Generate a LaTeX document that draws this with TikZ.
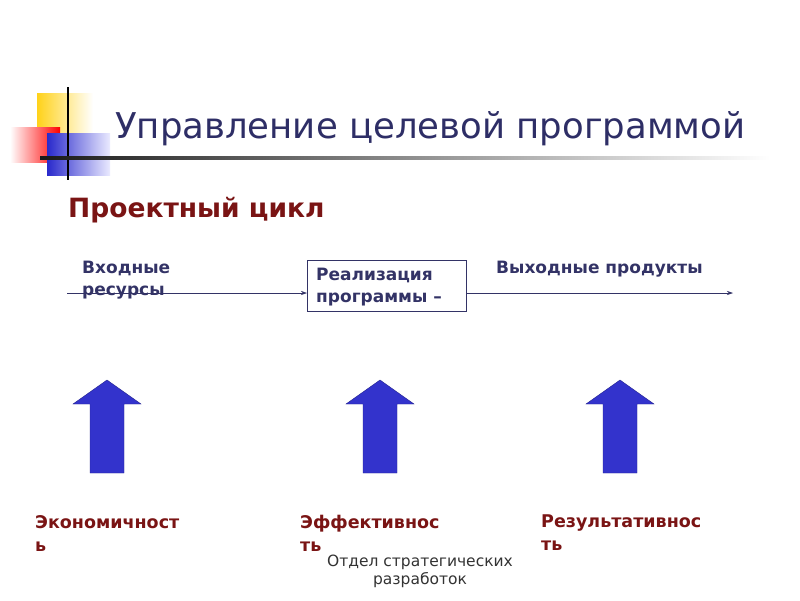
\documentclass[tikz,border=0pt]{standalone}
\usepackage{fontspec}
\setmainfont{DejaVu Sans}
\usetikzlibrary{arrows.meta}
\definecolor{titleblue}{HTML}{2E2E66}
\definecolor{darkred}{HTML}{7A1414}
\definecolor{arrowblue}{HTML}{3333CC}
\definecolor{txtblue}{HTML}{333366}
\definecolor{logoyellow}{HTML}{FFD21A}
\definecolor{logoblue}{HTML}{2A2ACC}
\tikzset{
  bigarrow/.style={fill=arrowblue, draw=arrowblue!70!black, line width=0.4pt},
  flowlbl/.style={anchor=north west, align=left, inner sep=0pt, text=txtblue, font=\fontsize{17}{22}\selectfont\bfseries},
  reslbl/.style={anchor=north west, align=left, inner sep=0pt, text=darkred, font=\fontsize{17.5}{23}\selectfont\bfseries},
  flowline/.style={draw=txtblue, line width=0.6pt, -{Stealth[length=6pt,width=4pt]}}
}
\begin{document}
\begin{tikzpicture}[x=1pt,y=-1pt]
\useasboundingbox (0,0) rectangle (800,600);
\fill[white] (0,0) rectangle (800,600);
% logo
\shade[left color=logoyellow, right color=white] (37,93) rectangle (93,135);
\shade[left color=white, right color=red] (10,127) rectangle (60,162);
\shade[left color=logoblue, right color=blue!8] (47,133) rectangle (110,175);
\draw[black, line width=1.5pt] (68,87) -- (68,180);
\shade[left color=black!90, right color=white] (40,156.5) rectangle (770,159);
% title
\node[anchor=west, inner sep=0pt, text=titleblue, font=\fontsize{35.5}{40}\selectfont] (title) at (115,129) {Управление целевой программой};
\node[anchor=west, inner sep=0pt, text=darkred, font=\fontsize{26.5}{30}\selectfont\bfseries] (sub) at (68,210) {Проектный цикл};
% flow
\coordinate (start) at (67,293);
\node[draw=txtblue, line width=0.8pt, minimum width=159pt, minimum height=51pt, anchor=north west, inner sep=0pt] (box) at (307,260) {};
\node[flowlbl] (boxtxt) at (316,268) {Реализация\\программы –};
\coordinate (end) at (733,293);
\draw[flowline] (start) -- (box.west |- start);
\draw[flowline] (box.east |- end) -- (end);
\node[flowlbl] (inp) at (82,261) {Входные\\ресурсы};
\node[flowlbl] (outp) at (496,261) {Выходные продукты};
% big arrows
\foreach \cx/\nm in {107/a1, 380/a2, 620/a3}{
  \path[bigarrow] (\cx,380) -- (\cx+34,404) -- (\cx+17,404) -- (\cx+17,473) -- (\cx-17,473) -- (\cx-17,404) -- (\cx-34,404) -- cycle;
}
% result labels
\node[reslbl] (r1) at (35,515) {Экономичност\\ь};
\node[reslbl] (r2) at (300,515) {Эффективнос\\ть};
\node[reslbl] (r3) at (541,515) {Результативнос\\ть};
% footer
\node[anchor=north, align=center, inner sep=0pt, text=black!80, font=\fontsize{15.5}{18}\selectfont] (foot) at (420,555) {Отдел стратегических\\разработок};
\end{tikzpicture}
\end{document}
